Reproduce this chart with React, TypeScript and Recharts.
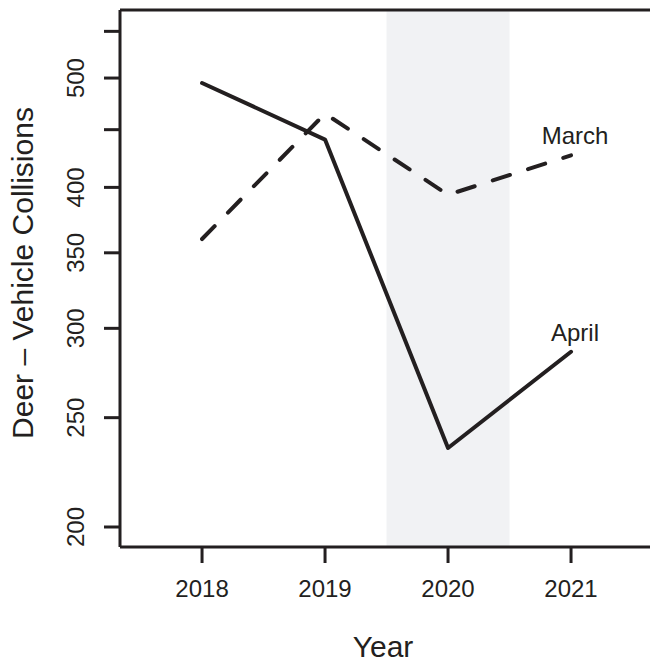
import React from "react";
import {
  LineChart,
  Line,
  XAxis,
  YAxis,
  ReferenceArea,
  ReferenceLine,
  Label,
} from "recharts";

const INK = "#231f20";
const SHADE = "#f1f2f4";
const FONT = "'Liberation Sans', Arial, Helvetica, sans-serif";

const years = [2018, 2019, 2020, 2021];
const april = [495, 441, 235, 286];
const march = [360, 465, 394, 427];
const yTicks = [200, 250, 300, 350, 400, 450, 500, 550];
const yLabelled = [200, 250, 300, 350, 400, 500];
const Y_MIN = 192;
const Y_MAX = 574.5;

const data = years.map((year, i) => ({
  year,
  april: april[i],
  march: march[i],
}));

const YTick = (props: any) => {
  const { y, payload } = props;
  if (!yLabelled.includes(payload.value)) return <g />;
  return (
    <text
      x={84}
      y={y}
      transform={`rotate(-90 84 ${y})`}
      textAnchor="middle"
      fontSize={24}
      fill={INK}
      fontFamily={FONT}
    >
      {payload.value}
    </text>
  );
};

const XTick = (props: any) => {
  const { x, payload } = props;
  return (
    <text x={x} y={597} textAnchor="middle" fontSize={24} fill={INK} fontFamily={FONT}>
      {payload.value}
    </text>
  );
};

// series name written above the last point, like R's text(pos = 3)
const endLabel = (name: string) => (props: any) => {
  const { x, y, index } = props;
  if (index !== years.length - 1) return <g />;
  return (
    <text x={x + 4} y={y - 11} textAnchor="middle" fontSize={24} fill={INK} fontFamily={FONT}>
      {name}
    </text>
  );
};

export default function App() {
  return (
    <div style={{ width: 650, height: 662, background: "#fff" }}>
      <style>{"body{margin:0}"}</style>
      <LineChart
        width={650}
        height={662}
        data={data}
        margin={{ top: 10, right: 0, bottom: 0, left: 0 }}
      >
        <ReferenceArea x1={2019.5} x2={2020.5} fill={SHADE} fillOpacity={1} stroke="none" />
        <XAxis
          dataKey="year"
          type="number"
          domain={[2017.333, 2021.642]}
          ticks={years}
          allowDataOverflow
          height={115}
          tickSize={16}
          tick={<XTick />}
          axisLine={{ stroke: INK, strokeWidth: 3 }}
          tickLine={{ stroke: INK, strokeWidth: 3 }}
        >
          <Label
            content={(p: any) => (
              <text
                x={p.viewBox.x + p.viewBox.width / 2 - 2}
                y={657}
                textAnchor="middle"
                fontSize={30}
                fill={INK}
                fontFamily={FONT}
              >
                Year
              </text>
            )}
          />
        </XAxis>
        <YAxis
          type="number"
          scale="log"
          domain={[Y_MIN, Y_MAX]}
          allowDataOverflow
          ticks={yTicks}
          interval={0}
          width={120}
          tickSize={16}
          tick={<YTick />}
          axisLine={{ stroke: INK, strokeWidth: 3 }}
          tickLine={{ stroke: INK, strokeWidth: 3 }}
        >
          <Label
            content={() => (
              <text
                x={33}
                y={273}
                transform="rotate(-90 33 273)"
                textAnchor="middle"
                fontSize={30}
                fill={INK}
                fontFamily={FONT}
              >
                Deer – Vehicle Collisions
              </text>
            )}
          />
        </YAxis>
        {/* top edge of the plot box */}
        <ReferenceLine y={Y_MAX} stroke={INK} strokeWidth={3} />
        <Line
          dataKey="april"
          stroke={INK}
          strokeWidth={4}
          strokeLinejoin="round"
          strokeLinecap="round"
          dot={false}
          activeDot={false}
          isAnimationActive={false}
          label={endLabel("April")}
        />
        <Line
          dataKey="march"
          stroke={INK}
          strokeWidth={4}
          strokeDasharray="18 19"
          strokeLinejoin="round"
          strokeLinecap="round"
          dot={false}
          activeDot={false}
          isAnimationActive={false}
          label={endLabel("March")}
        />
      </LineChart>
    </div>
  );
}
